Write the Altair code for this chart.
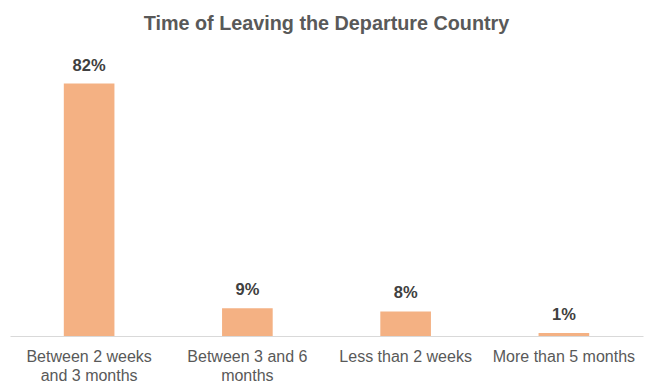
import altair as alt
import pandas as pd

categories = ["Between 2 weeks|and 3 months", "Between 3 and 6|months", "Less than 2 weeks", "More than 5 months"]
values = [82, 9, 8, 1]
labels = ["82%", "9%", "8%", "1%"]

df = pd.DataFrame({"cat": categories, "val": values, "lab": labels})

base = alt.Chart(df).encode(
    x=alt.X("cat:N", sort=categories, title=None,
            scale=alt.Scale(paddingInner=0.68, paddingOuter=0.34),
            axis=alt.Axis(labelExpr="split(datum.label, '|')", labelAngle=0,
                          labelFont="Liberation Sans", labelFontSize=16,
                          labelColor="#595959", labelPadding=12, labelLineHeight=19,
                          ticks=False, domainColor="#d9d9d9", domainWidth=1.2,
                          grid=False)),
    y=alt.Y("val:Q", scale=alt.Scale(domain=[0, 90]), axis=None),
)

bars = base.mark_bar(color="#F4B183")
text = base.mark_text(dy=-10, font="Liberation Sans", fontSize=16.5, fontWeight="bold",
                      color="#404040", baseline="bottom").encode(text="lab:N")

chart = (bars + text).properties(
    width=633, height=277,
    padding={"left": 10, "top": 59, "right": 11, "bottom": 47},
    autosize=alt.AutoSizeParams(type="none"),
    title=alt.TitleParams("Time of Leaving the Departure Country", font="Liberation Sans",
                          fontSize=19.8, fontWeight="bold", color="#595959",
                          anchor="middle", offset=24),
).configure_view(stroke=None)

chart.save("out.html", embed_options={"renderer": "svg", "actions": False})
